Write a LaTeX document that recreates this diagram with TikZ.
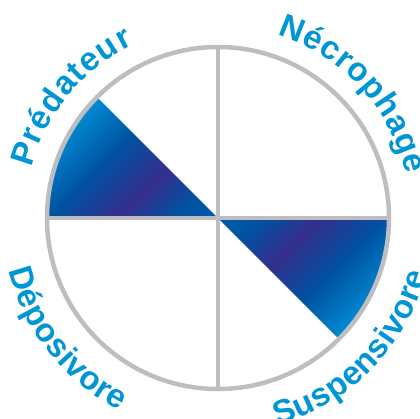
\documentclass[tikz,border=0pt]{standalone}
\usepackage{fontspec}
\usepackage{tikz}
\usetikzlibrary{decorations.text}
\newfontfamily\labelfont{Liberation Sans}
\definecolor{rimgray}{RGB}{190,190,192}
\definecolor{labelblue}{RGB}{0,150,214}
\definecolor{bluelight}{RGB}{0,140,210}
\definecolor{bluemid}{RGB}{0,82,162}
\definecolor{bluepurple}{RGB}{52,46,140}
\definecolor{bluedeep}{RGB}{0,92,172}
\pgfdeclarehorizontalshading{bluebar}{100bp}{color(0bp)=(bluelight); color(25bp)=(bluelight); color(40bp)=(bluemid); color(54bp)=(bluepurple); color(66bp)=(bluemid); color(75bp)=(bluedeep); color(100bp)=(bluedeep)}

\begin{document}
\begin{tikzpicture}[x=1pt, y=1pt, rim/.style={draw=rimgray,line width=4.5pt},
    lbl/.style={decorate,decoration={text along path,text align=fit to path,text color=labelblue,text={|\labelfont\bfseries\fontsize{33}{33}\selectfont|#1}}}]
              \useasboundingbox (-218,-200) rectangle (202,218);
              \coordinate (O) at (0,0);
              \coordinate (N) at (90:171);
              \coordinate (S) at (-90:171);
              \coordinate (E) at (0:171);
              \coordinate (W) at (180:171);

              \begin{scope}
                \clip (O) -- (135:171) arc[start angle=135,end angle=180,radius=171] -- cycle;
                \shade[shading=bluebar,transform canvas={rotate=-45}] (-171,-130) rectangle (0,10);
              \end{scope}
              \begin{scope}
                \clip (O) -- (E) arc[start angle=0,end angle=-45,radius=171] -- cycle;
                \shade[shading=bluebar,transform canvas={rotate=135}] (-171,-130) rectangle (0,10);
              \end{scope}

              \draw[rim] (O) circle[radius=171];
              \draw[rim] (N) -- (S);
              \draw[rim] (W) -- (E);

              \path[lbl=Prédateur] (165:193) arc[start angle=165,end angle=116,radius=193];
              \path[lbl=Nécrophage] (72:193) arc[start angle=72,end angle=13,radius=193];
              \path[lbl=Déposivore] (194:216) arc[start angle=194,end angle=243,radius=216];
              \path[lbl=Suspensivore] (286:216) arc[start angle=286,end angle=345,radius=216];
            \end{tikzpicture}
\end{document}
